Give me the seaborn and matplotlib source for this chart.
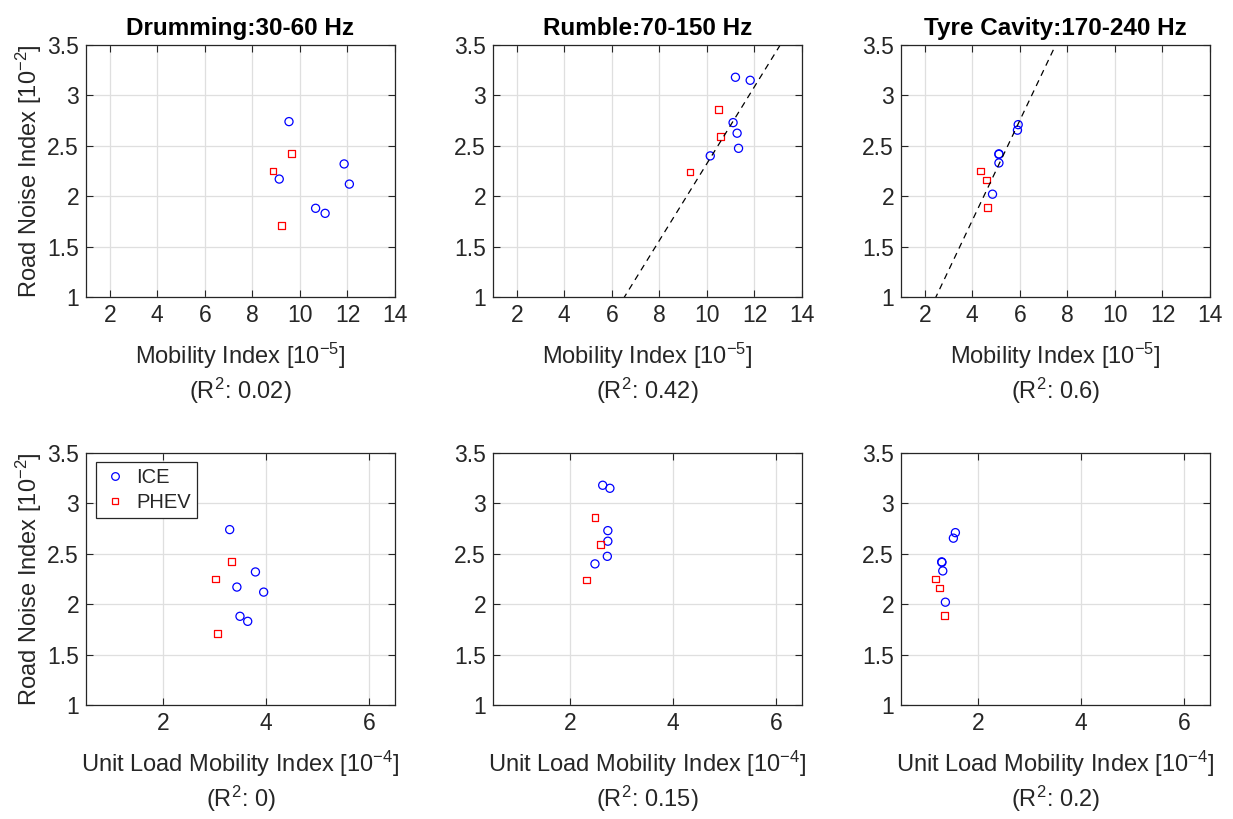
import numpy as np
import pandas as pd
import matplotlib
matplotlib.use("Agg")
import matplotlib.pyplot as plt
from matplotlib.lines import Line2D
import seaborn as sns

# Road noise index [1e-2] per band, ICE and PHEV vehicles
drum_ice_y = [2.74, 2.17, 2.32, 2.12, 1.88, 1.83]
drum_phev_y = [2.42, 2.25, 1.71]
rumble_ice_y = [3.18, 3.15, 2.73, 2.625, 2.475, 2.40]
rumble_phev_y = [2.86, 2.59, 2.24]
tyre_ice_y = [2.71, 2.655, 2.42, 2.415, 2.33, 2.02]
tyre_phev_y = [2.25, 2.16, 1.89]

# Mobility index [1e-5]
drum_ice_mob = [9.54, 9.13, 11.86, 12.08, 10.66, 11.06]
drum_phev_mob = [9.66, 8.87, 9.22]
rumble_ice_mob = [11.20, 11.82, 11.10, 11.27, 11.33, 10.14]
rumble_phev_mob = [10.49, 10.56, 9.29]
tyre_ice_mob = [5.93, 5.90, 5.12, 5.12, 5.12, 4.85]
tyre_phev_mob = [4.34, 4.60, 4.64]

# Unit load mobility index [1e-4]
drum_ice_ulm = [3.29, 3.43, 3.79, 3.95, 3.49, 3.64]
drum_phev_ulm = [3.33, 3.02, 3.05]
rumble_ice_ulm = [2.63, 2.77, 2.73, 2.73, 2.72, 2.48]
rumble_phev_ulm = [2.48, 2.58, 2.32]
tyre_ice_ulm = [1.556, 1.517, 1.29, 1.295, 1.311, 1.362]
tyre_phev_ulm = [1.176, 1.246, 1.349]

titles = ["Drumming:30-60 Hz", "Rumble:70-150 Hz", "Tyre Cavity:170-240 Hz"]
r2_mob = ["0.02", "0.42", "0.6"]
r2_ulm = ["0", "0.15", "0.2"]
show_fit = [False, True, True]

bands = [
    (drum_ice_y, drum_phev_y, drum_ice_mob, drum_phev_mob, drum_ice_ulm, drum_phev_ulm),
    (rumble_ice_y, rumble_phev_y, rumble_ice_mob, rumble_phev_mob, rumble_ice_ulm, rumble_phev_ulm),
    (tyre_ice_y, tyre_phev_y, tyre_ice_mob, tyre_phev_mob, tyre_ice_ulm, tyre_phev_ulm),
]

sns.set_theme(style="whitegrid")
plt.rcParams["font.family"] = ["Liberation Sans", "DejaVu Sans"]
plt.rcParams["mathtext.fontset"] = "custom"
plt.rcParams["mathtext.rm"] = "Liberation Sans"
plt.rcParams["mathtext.it"] = "Liberation Sans:italic"
plt.rcParams["mathtext.bf"] = "Liberation Sans:bold"

TXT = "#262626"
FS = 17
fig = plt.figure(figsize=(12.33, 8.19), dpi=100)
lefts = [86, 493, 901]
W, H = 1233, 819


def style_axes(ax, xlim, xticks):
    ax.set_xlim(*xlim)
    ax.set_ylim(1, 3.5)
    ax.set_xticks(xticks)
    ax.set_yticks([1, 1.5, 2, 2.5, 3, 3.5])
    ax.set_yticklabels(["1", "1.5", "2", "2.5", "3", "3.5"])
    ax.grid(True, color="#dfdfdf", linewidth=0.9)
    ax.set_facecolor("white")
    for s in ax.spines.values():
        s.set_visible(True)
        s.set_color(TXT)
        s.set_linewidth(0.9)
    ax.tick_params(direction="in", length=5, width=0.8, color=TXT,
                   top=True, right=True, bottom=True, left=True,
                   labelsize=16.5, labelcolor=TXT, pad=5)


for col, (iy, py, imob, pmob, iulm, pulm) in enumerate(bands):
    for row in range(2):
        top_px = 45 if row == 0 else 453
        ax = fig.add_axes([lefts[col] / W, (H - top_px - 252) / H, 309 / W, 252 / H])
        if row == 0:
            ix, px = imob, pmob
            xlim, xticks = (1, 14), [2, 4, 6, 8, 10, 12, 14]
            xl = "Mobility Index [10$^{-5}$]\n(R$^{2}$: " + r2_mob[col] + ")"
        else:
            ix, px = iulm, pulm
            xlim, xticks = (0.5, 6.5), [2, 4, 6]
            xl = "Unit Load Mobility Index [10$^{-4}$]\n(R$^{2}$: " + r2_ulm[col] + ")"
        style_axes(ax, xlim, xticks)

        df = pd.concat([
            pd.DataFrame({"x": ix, "y": iy, "type": "ICE"}),
            pd.DataFrame({"x": px, "y": py, "type": "PHEV"}),
        ], ignore_index=True)
        sns.scatterplot(data=df, x="x", y="y", hue="type", style="type",
                        markers={"ICE": "o", "PHEV": "s"},
                        palette={"ICE": "#0000ff", "PHEV": "#ff0000"},
                        size="type", sizes={"ICE": 34, "PHEV": 24},
                        linewidth=0.9, ax=ax, legend=False)
        # hollow markers, edge coloured like matlab
        for coll in ax.collections:
            fc = coll.get_facecolors()
            coll.set_edgecolors(fc)
            coll.set_facecolors("none")

        if row == 0 and show_fit[col]:
            sns.regplot(x=np.array(ix), y=np.array(iy), scatter=False, ci=None,
                        truncate=False, ax=ax,
                        line_kws={"color": "black", "linestyle": (0, (5, 4)),
                                  "linewidth": 0.9})
            ax.set_xlim(*xlim)
            ax.set_ylim(1, 3.5)

        ax.set_xlabel(xl, fontsize=FS, color=TXT, labelpad=10, linespacing=1.2)
        if col == 0:
            ax.set_ylabel("Road Noise Index [10$^{-2}$]", fontsize=FS, color=TXT, labelpad=2)
        else:
            ax.set_ylabel("")
        if row == 0:
            ax.set_title(titles[col], fontsize=17.5, fontweight="bold", color="black", pad=7)

        if row == 1 and col == 0:
            handles = [
                Line2D([], [], marker="o", linestyle="none", markersize=5.5,
                       markerfacecolor="none", markeredgecolor="#0000ff", markeredgewidth=0.9),
                Line2D([], [], marker="s", linestyle="none", markersize=4.8,
                       markerfacecolor="none", markeredgecolor="#ff0000", markeredgewidth=0.9),
            ]
            leg = ax.legend(handles, ["ICE", "PHEV"], loc="upper left", fontsize=14.5,
                            frameon=True, fancybox=False, framealpha=1,
                            edgecolor=TXT, borderpad=0.3, handletextpad=0.4,
                            handlelength=1.3, labelspacing=0.3, borderaxespad=0,
                            bbox_to_anchor=(0.032, 0.965))
            leg.get_frame().set_linewidth(0.9)

fig.savefig("out.png", dpi=100, facecolor="white")
